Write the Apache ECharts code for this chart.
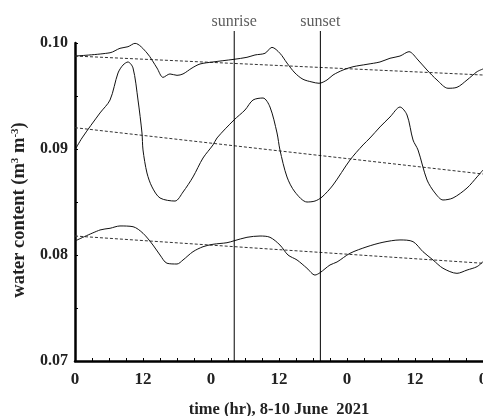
<!DOCTYPE html>
<html>
<head>
<meta charset="utf-8">
<script src="https://cdn.jsdelivr.net/npm/echarts@6/dist/echarts.min.js"></script>
<style>html,body{margin:0;padding:0;background:#fff;overflow:hidden}#c{width:483px;height:416px;display:block}</style>
</head>
<body>
<div id="c"></div>
<script>
// [hour, water content]
var topCurve = [[0,0.09877],[6.18,0.09908],[7.94,0.09950],[9.35,0.09965],[10.59,0.09997],[12.7,0.09906],[14.47,0.09764],[15.53,0.09676],[16.76,0.09708],[18.0,0.09695],[19.06,0.09708],[20.65,0.09764],[22.06,0.09802],[24.35,0.09821],[26.1,0.09833],[28.06,0.09846],[30.35,0.09865],[31.76,0.09887],[33.53,0.09903],[34.76,0.09959],[36.17,0.09903],[37.41,0.09811],[38.82,0.09717],[40.23,0.09658],[41.82,0.09632],[43.06,0.09620],[44.47,0.09651],[45.53,0.09698],[47.29,0.09745],[49.06,0.09776],[51.53,0.09799],[53.82,0.09821],[55.59,0.09856],[57.35,0.09877],[58.94,0.09918],[60.53,0.09840],[62.12,0.09745],[63.88,0.09651],[65.82,0.09573],[67.41,0.09582],[69.18,0.09651],[70.94,0.09729],[72,0.09755]];
var midCurve = [[0,0.08991],[1.24,0.09104],[4.41,0.09340],[6.18,0.09462],[7.59,0.09717],[8.47,0.09792],[9.35,0.09821],[10.24,0.09764],[11.12,0.09462],[11.82,0.09151],[12.0,0.08991],[12.7,0.08774],[13.59,0.08642],[15.0,0.08538],[17.65,0.08509],[19.06,0.08594],[20.82,0.08736],[22.59,0.08915],[24.35,0.09038],[25.06,0.09104],[28.06,0.09274],[30.0,0.09368],[31.41,0.09462],[33.18,0.09481],[34.41,0.09396],[35.65,0.09151],[36.17,0.08991],[37.41,0.08736],[38.82,0.08594],[40.94,0.08500],[42.35,0.08509],[43.59,0.08547],[45.53,0.08660],[48.53,0.08896],[50.82,0.09038],[52.06,0.09104],[53.82,0.09208],[55.59,0.09302],[57.35,0.09396],[58.59,0.09321],[59.65,0.09085],[60.53,0.08991],[62.12,0.08708],[63.53,0.08585],[64.94,0.08519],[66.71,0.08538],[69.18,0.08632],[70.94,0.08736],[72,0.08802]];
var lowCurve = [[0,0.08132],[4.41,0.08236],[6.18,0.08252],[7.94,0.08274],[10.24,0.08267],[12.0,0.08205],[13.76,0.08094],[15.0,0.08000],[16.24,0.07922],[18.0,0.07915],[19.06,0.07953],[20.82,0.08031],[22.59,0.08078],[24.35,0.08101],[26.82,0.08116],[28.06,0.08134],[30.35,0.08167],[32.65,0.08179],[34.41,0.08167],[36.17,0.08094],[37.59,0.08000],[39.18,0.07953],[40.94,0.07875],[42.35,0.07811],[43.24,0.07833],[45.0,0.07906],[46.24,0.07934],[48.53,0.08016],[51.53,0.08078],[54.35,0.08120],[57.35,0.08142],[59.65,0.08126],[61.41,0.08031],[63.18,0.07953],[64.94,0.07875],[67.41,0.07827],[69.18,0.07858],[70.94,0.07890],[72,0.07937]];
var topTrend = [[0,0.09877],[72,0.09698]];
var midTrend = [[0,0.09201],[72,0.08764]];
var lowTrend = [[0,0.08179],[72,0.07922]];
var sunNames = ['sunrise','sunset'];
var sunHours = [28.1, 43.3];
var yTickLabels = ['0.07','0.08','0.09','0.10'];
var xTitle = 'time (hr), 8-10 June  2021';
var yTitle = 'water content (m{sup|3} m{sup|-3})';

var serif = 'Liberation Serif';
var el = document.getElementById('c');
var chart = echarts.init(el, null, {renderer:'canvas', width:483, height:416});

function curve(d){return {type:'line',data:d,xAxisIndex:0,yAxisIndex:0,showSymbol:false,symbol:'none',smooth:0.3,lineStyle:{color:'#111',width:1},z:3,animation:false};}
function trend(d){return {type:'line',data:d,xAxisIndex:0,yAxisIndex:0,showSymbol:false,symbol:'none',lineStyle:{color:'#333',width:1,type:[3,2]},z:2,animation:false};}

var series = [curve(topCurve),curve(midCurve),curve(lowCurve),trend(topTrend),trend(midTrend),trend(lowTrend)];
sunHours.forEach(function(h,i){
  series.push({type:'line',xAxisIndex:1,yAxisIndex:1,symbol:'none',showSymbol:false,animation:false,
    lineStyle:{color:'#000',width:1},z:4,data:[[h,0],[h,1]]});
  series.push({type:'scatter',xAxisIndex:1,yAxisIndex:1,symbolSize:1,itemStyle:{color:'rgba(0,0,0,0)'},animation:false,z:5,
    data:[[h,1]],
    labelLayout:{hideOverlap:false},
    label:{show:true,position:'top',distance:1,formatter:sunNames[i],fontFamily:serif,fontSize:16,color:'#333'}});
});

var gridBase = {left:75,right:0,bottom:55,containLabel:false,outerBoundsMode:'none'};
chart.setOption({
  animation:false,
  grid:[Object.assign({top:43},gridBase),Object.assign({top:31},gridBase)],
  xAxis:[{type:'value',gridIndex:0,min:0,max:72,interval:12,
    name:xTitle,nameLocation:'middle',nameGap:40,
    nameTextStyle:{fontFamily:serif,fontWeight:'bold',fontSize:16.5,color:'#222'},
    axisLine:{lineStyle:{color:'#000',width:2.5}},
    axisTick:{show:true,inside:true,length:3,lineStyle:{color:'#000',width:1}},
    minorTick:{show:true,splitNumber:4,length:3,lineStyle:{color:'#000',width:1}},
    splitLine:{show:false},
    axisLabel:{fontFamily:serif,fontWeight:'bold',fontSize:17,color:'#222',margin:10,showMaxLabel:true,hideOverlap:false,
      formatter:function(v){return String(v%24);}}},
   {type:'value',gridIndex:1,min:0,max:72,show:false}],
  yAxis:[{type:'value',gridIndex:0,min:0.07,max:0.10,interval:0.01,
    name:yTitle,nameLocation:'middle',nameGap:43,nameRotate:90,
    nameTextStyle:{fontFamily:serif,fontWeight:'bold',fontSize:18.5,color:'#222',padding:[0,16,0,0],
      rich:{sup:{fontFamily:serif,fontWeight:'bold',fontSize:11,verticalAlign:'top',padding:[0,0,8,0]}}},
    axisLine:{show:true,lineStyle:{color:'#000',width:2.5}},
    axisTick:{show:true,inside:true,length:3,lineStyle:{color:'#000',width:1}},
    minorTick:{show:true,splitNumber:2,length:3,lineStyle:{color:'#000',width:1}},
    splitLine:{show:false},
    axisLabel:{fontFamily:serif,fontWeight:'bold',fontSize:16,color:'#222',margin:7,
      formatter:function(v){var i=Math.round((v-0.07)/0.01);return yTickLabels[i]||'';}}},
   {type:'value',gridIndex:1,min:0,max:1,show:false}],
  series:series
});
</script>
</body>
</html>
